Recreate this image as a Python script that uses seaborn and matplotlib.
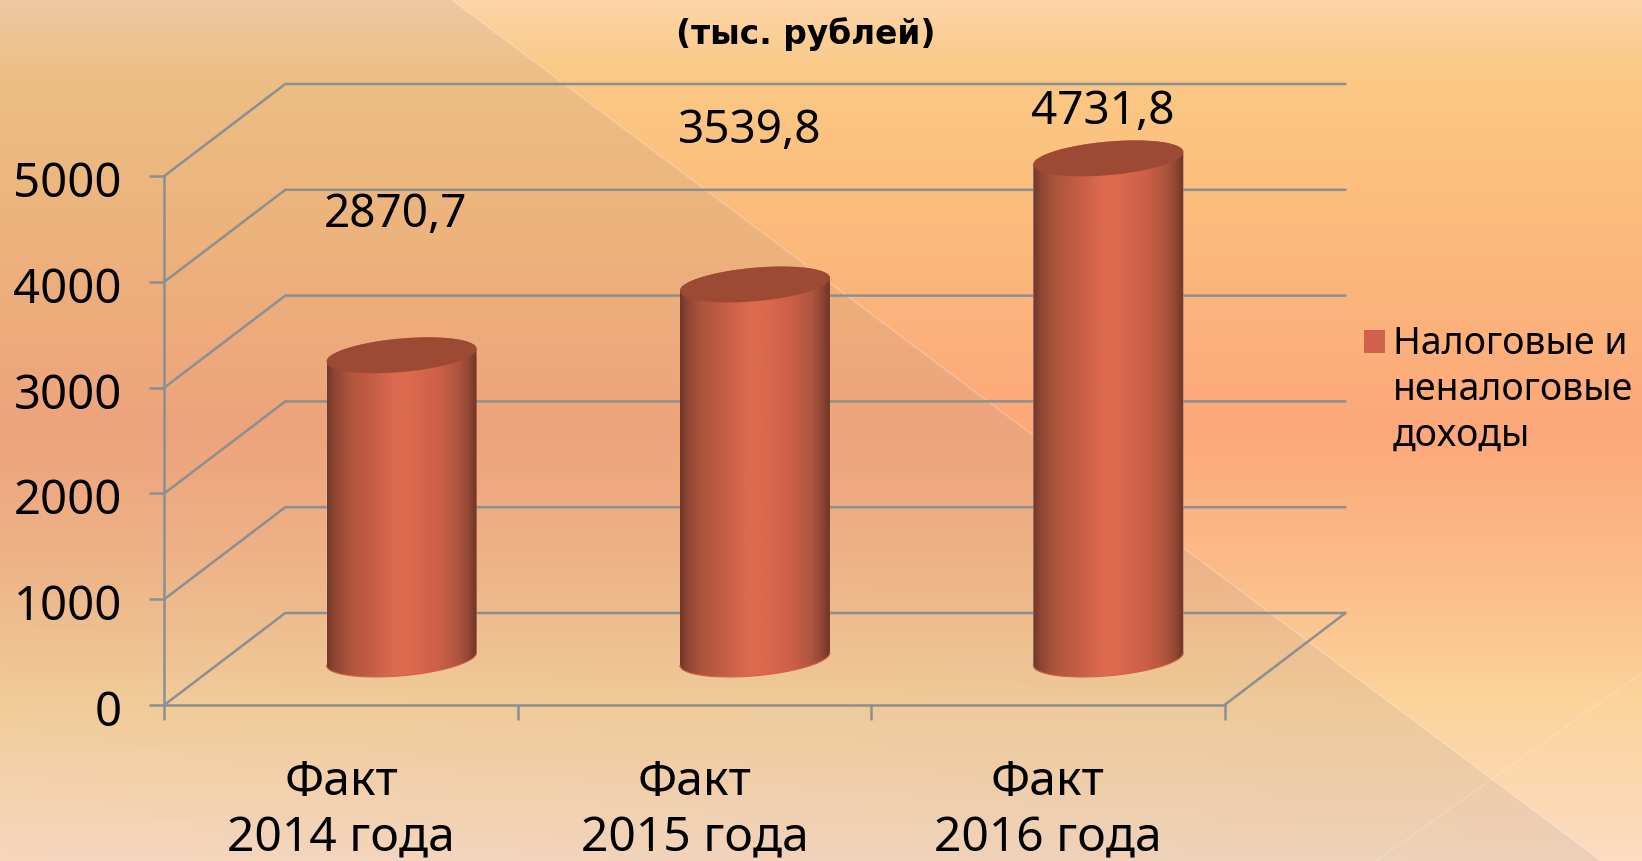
"""
3D-looking cylinder bars on an orange slide background (тыс. рублей).
"""

import numpy as np
import matplotlib
matplotlib.use("Agg")
import matplotlib.pyplot as plt
from matplotlib.colors import LinearSegmentedColormap
from matplotlib.patches import Polygon, Patch
from matplotlib.transforms import ScaledTranslation
import seaborn as sns

CATEGORIES = ["Факт\n2014 года", "Факт\n2015 года", "Факт\n2016 года"]
VALUES = [2870.7, 3539.8, 4731.8]
VALUE_LABELS = ["2870,7", "3539,8", "4731,8"]
Y_TICKS = [0, 1000, 2000, 3000, 4000, 5000]
LEGEND_LINES = ["Налоговые и", "неналоговые", "доходы"]
TITLE = "(тыс. рублей)"

W, H = 1642, 861
GRID = "#8b8f91"
GRID_LW = 1.8
BAR = "#d1614a"
FONT = "Noto Sans"

# plot box in pixels: front plane, and depth offset of the back wall
LEFT, RIGHT, TOP, BOTTOM = 164.3, 1224.5, 176.0, 705.0
DEPTH_X, DEPTH_Y = 121.0, 92.0
PX_CAT = (RIGHT - LEFT) / 3
PX_VAL = (BOTTOM - TOP) / 5000
DX, DY = DEPTH_X / PX_CAT, DEPTH_Y / PX_VAL

sns.set_theme(style="white")
plt.rcParams["font.family"] = [FONT, "DejaVu Sans"]
fig = plt.figure(figsize=(W / 100, H / 100), dpi=100)


def box(dx=0.0, dy=0.0):
    return [(LEFT + dx) / W, 1 - (BOTTOM - dy) / H, (RIGHT - LEFT) / W, (BOTTOM - TOP) / H]


# ── Background ───────────────────────────────────────────────────────────────
bg = fig.add_axes([0, 0, 1, 1], zorder=0)
stops = [(0.0, "#fcd4a6"), (0.09, "#fbc884"), (0.25, "#fbbc7c"), (0.50, "#fda87a"),
         (0.66, "#fcbb89"), (0.82, "#fbd49c"), (1.0, "#fcdcc2")]
bg.imshow(np.linspace(0, 1, 256)[:, None], cmap=LinearSegmentedColormap.from_list("bg", stops),
          extent=(0, W, H, 0), aspect="auto")
# translucent triangle, fading towards the lower left corner
yy, xx = np.mgrid[0:1:200j, 0:1:300j]
veil = np.zeros((200, 300, 4))
veil[..., :3] = np.array([152, 139, 136]) / 255
veil[..., 3] = 0.15 * (1 - 0.6 * np.clip((yy - 0.6) / 0.4, 0, 1) * (1 - xx))
tri = Polygon([(0, 0), (452, 0), (1601, 861), (0, 861)], transform=bg.transData,
              facecolor="none", edgecolor="none")
bg.add_patch(tri)
veil_im = bg.imshow(veil, extent=(0, W, H, 0), aspect="auto")
veil_im.set_clip_path(tri)
bg.plot([452, 1601], [0, 861], color="white", alpha=0.25, lw=1)
bg.plot([1376, 1642], [861, 673], color="white", alpha=0.2, lw=1)
bg.set_xlim(0, W)
bg.set_ylim(H, 0)
bg.axis("off")

# ── Front plane: axes, ticks, grid on the walls ──────────────────────────────
ax = fig.add_axes(box(), zorder=1)
ax.patch.set_alpha(0)
ax.set_xlim(-0.5, 2.5)
ax.set_ylim(0, 5000)
for v in Y_TICKS:
    ax.plot([-0.5, -0.5 + DX, 2.5 + DX], [v, v + DY, v + DY], color=GRID, lw=GRID_LW,
            clip_on=False, solid_joinstyle="miter")
ax.plot([2.5, 2.5 + DX], [0, DY], color=GRID, lw=GRID_LW, clip_on=False)
for s in ["top", "right"]:
    ax.spines[s].set_visible(False)
for s in ["left", "bottom"]:
    ax.spines[s].set_color(GRID)
    ax.spines[s].set_linewidth(GRID_LW)
ax.set_yticks(Y_TICKS)
ax.set_yticklabels([str(v) for v in Y_TICKS], fontsize=34, color="black")
ax.set_xticks([-0.5, 0.5, 1.5, 2.5])
ax.set_xticklabels([])
ax.tick_params(axis="both", length=10.5, width=GRID_LW, color=GRID, left=True, bottom=True, pad=20)
for lab in ax.get_yticklabels():
    lab.set_transform(lab.get_transform() + ScaledTranslation(0, -0.03, fig.dpi_scale_trans))
for i, c in enumerate(CATEGORIES):
    ax.annotate(c, (i, 0), xytext=(0, -54), textcoords="offset pixels", ha="center", va="top",
                fontsize=34.6, linespacing=1.27, color="black", annotation_clip=False)

# ── Cylinders on the middle plane ────────────────────────────────────────────
mid = fig.add_axes(box(DEPTH_X / 2, DEPTH_Y / 2), zorder=2)
mid.patch.set_alpha(0)
BAR_W = 150 / PX_CAT
sns.barplot(x=list(range(3)), y=VALUES, color=BAR, saturation=1, width=BAR_W, ax=mid)
mid.set_xlim(-0.5, 2.5)
mid.set_ylim(0, 5000)
mid.axis("off")

shade = LinearSegmentedColormap.from_list("cyl", [
    (0.0, "#70372a"), (0.05, "#8e4633"), (0.15, "#ae553d"), (0.30, "#c55d44"), (0.45, "#dd6a4e"),
    (0.55, "#dc6a4f"), (0.75, "#cc5f46"), (0.88, "#ad553e"), (0.95, "#8e4633"), (1.0, "#6e3526"),
])
b, s = 16.8 / PX_VAL, 6.35 / PX_VAL
a = BAR_W / 2


def arc(cx, level, t):
    return np.column_stack([cx + a * np.cos(t), level + b * np.sin(t) + s * np.cos(t)])


for i, (v, rect) in enumerate(zip(VALUES, mid.patches)):
    body = np.vstack([arc(i, 0, np.linspace(np.pi, 2 * np.pi, 80)), arc(i, v, np.linspace(0, np.pi, 80))])
    clip = Polygon(body, transform=mid.transData, facecolor="none", edgecolor="none", clip_on=False)
    mid.add_patch(clip)
    rect.set_clip_path(clip)
    im = mid.imshow(np.linspace(0, 1, 256)[None, :], cmap=shade, aspect="auto",
                    extent=(i - a, i + a, -400, v + 400), zorder=3)
    im.set_clip_path(clip)
    im.set_clip_box(fig.bbox)
    # soft edge for the clipped lower rim
    mid.plot(*arc(i, 0, np.linspace(np.pi, 2 * np.pi, 80)).T, color=BAR, lw=0.8, zorder=3.5, clip_on=False)
    mid.add_patch(Polygon(arc(i, v, np.linspace(0, 2 * np.pi, 120)), facecolor="#9d4a35",
                          edgecolor="none", zorder=4, clip_on=False))
mid.set_xlim(-0.5, 2.5)
mid.set_ylim(0, 5000)

# ── Texts ────────────────────────────────────────────────────────────────────
for lab, (x, y) in zip(VALUE_LABELS, [(395, 215), (750, 131), (1103, 112)]):
    fig.text(x / W, 1 - y / H, lab, ha="center", va="center", fontsize=33, color="black", zorder=5)
fig.text(806 / W, 1 - 34 / H, TITLE, ha="center", va="center", fontsize=23.7, fontweight="bold",
         family="DejaVu Sans", color="black")

blank = Patch(facecolor="none", edgecolor="none")
fig.legend(handles=[Patch(facecolor=BAR, edgecolor="none"), blank, blank], labels=LEGEND_LINES,
           loc="upper left", bbox_to_anchor=(1364 / W, 1 - 325.5 / H), frameon=False, fontsize=27,
           handlelength=0.56, handleheight=0.56, handletextpad=0.2, labelspacing=0.2,
           borderpad=0, borderaxespad=0, labelcolor="black")

fig.savefig("out.png", dpi=100)
